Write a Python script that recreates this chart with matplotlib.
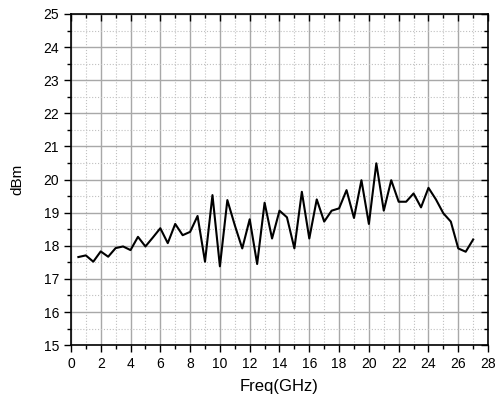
import numpy as np
import matplotlib.pyplot as plt
from matplotlib.ticker import MultipleLocator

plt.rcParams['font.family'] = ['Liberation Sans', 'DejaVu Sans']

freq = np.arange(0.5, 27.01, 0.5)  # GHz
dbm = [17.66, 17.71, 17.52, 17.83, 17.67, 17.93, 17.98, 17.87, 18.27, 17.98,
       18.25, 18.53, 18.08, 18.66, 18.32, 18.42, 18.90, 17.52, 19.53, 17.38,
       19.38, 18.62, 17.92, 18.80, 17.45, 19.30, 18.22, 19.06, 18.86, 17.92,
       19.63, 18.22, 19.40, 18.73, 19.06, 19.13, 19.68, 18.84, 19.98, 18.66,
       20.49, 19.06, 19.98, 19.33, 19.33, 19.58, 19.16, 19.75, 19.40, 18.98,
       18.73, 17.92, 17.82, 18.19]

fig = plt.figure(figsize=(4.96, 3.99), dpi=100)
ax = fig.add_axes([0.143, 0.135, 0.841, 0.830])

ax.plot(freq, dbm, color='black', lw=1.5, zorder=3)

ax.set_xlim(0, 28)
ax.set_ylim(15, 25)
ax.xaxis.set_major_locator(MultipleLocator(2))
ax.xaxis.set_minor_locator(MultipleLocator(1))
ax.yaxis.set_major_locator(MultipleLocator(1))
ax.yaxis.set_minor_locator(MultipleLocator(0.5))

ax.grid(which='major', color='#a8a8a8', lw=1.0, ls='-')
ax.grid(which='minor', color='#c0c0c0', lw=0.8, ls=':')

ax.tick_params(which='major', direction='out', length=5, width=1, labelsize=10)
ax.tick_params(which='minor', direction='out', length=3, width=1)
# inward ticks on the top and right like Origin
ax.tick_params(which='both', top=True, right=True, labeltop=False, labelright=False)
for t in ax.xaxis.get_major_ticks() + ax.xaxis.get_minor_ticks():
    t.tick2line.set_marker(3)
for t in ax.yaxis.get_major_ticks() + ax.yaxis.get_minor_ticks():
    t.tick2line.set_marker(0)

for s in ax.spines.values():
    s.set_linewidth(1.2)
    s.set_color('black')

ax.set_xlabel('Freq(GHz)', fontsize=12, labelpad=6)
ax.set_ylabel('dBm', fontsize=11, labelpad=14)

fig.savefig('out.png', dpi=100)
